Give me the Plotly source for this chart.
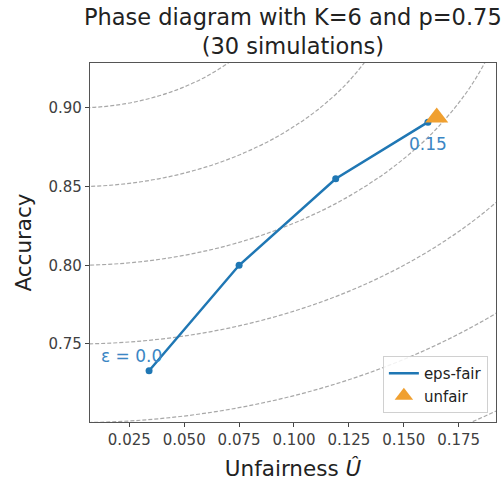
import plotly.graph_objects as go

# Data
eps = [0.0, 0.05, 0.10, 0.15]
unfairness = [0.034, 0.075, 0.119, 0.161]
accuracy = [0.733, 0.800, 0.855, 0.891]
unfair_x = [0.165]
unfair_y = [0.894]
radii = [0.10, 0.15, 0.20, 0.25, 0.30, 0.35]
x_ticks = [0.025, 0.050, 0.075, 0.100, 0.125, 0.150, 0.175]
y_ticks = [0.75, 0.80, 0.85, 0.90]

BLUE = "#1f77b4"
LABEL_BLUE = "#3b86c4"
ORANGE = "#f0a030"
FONT = "DejaVu Sans"

fig = go.Figure()

fig.add_trace(go.Scatter(x=unfairness, y=accuracy, mode="lines", name="eps-fair",
                         line=dict(color=BLUE, width=2.5)))
fig.add_trace(go.Scatter(x=unfairness, y=accuracy, mode="markers", showlegend=False,
                         marker=dict(color=BLUE, size=7)))
fig.add_trace(go.Scatter(x=unfair_x, y=unfair_y, mode="markers", name="unfair",
                         marker=dict(color=ORANGE, size=20, symbol="triangle-up",
                                     line=dict(width=0))))

for r in radii:
    fig.add_shape(type="circle", xref="x", yref="y", x0=-r, x1=r, y0=1 - r, y1=1 + r,
                  line=dict(color="#a8a8a8", width=1.2, dash="4px,2px"), layer="below")

fig.add_annotation(x=unfairness[0], y=accuracy[0], text=f"ε = {eps[0]:.1f}",
                   showarrow=False, xanchor="right", yanchor="middle",
                   xshift=15, yshift=15, font=dict(family=FONT, size=17, color=LABEL_BLUE))
fig.add_annotation(x=unfairness[-1], y=accuracy[-1], text=f"{eps[-1]:.2f}",
                   showarrow=False, xanchor="center", yanchor="middle",
                   xshift=0, yshift=-22, font=dict(family=FONT, size=17, color=LABEL_BLUE))

# Title as an annotation (multi-line)
fig.add_annotation(x=0.5, y=1, xref="paper", yref="paper", xanchor="center", yanchor="bottom",
                   yshift=2, showarrow=False,
                   text="Phase diagram with K=6 and p=0.75<br>(30 simulations)",
                   font=dict(family=FONT, size=22.5, color="#222222"))

axis_common = dict(showgrid=False, zeroline=False, showline=True, mirror=True,
                   linecolor="#555555", linewidth=1.3, ticks="outside", ticklen=4,
                   tickcolor="#444444", tickfont=dict(family=FONT, size=15, color="#404040"),
                   automargin=False)

fig.update_xaxes(range=[0.0071, 0.192], tickvals=x_ticks,
                 ticktext=[f"{v:.3f}" for v in x_ticks],
                 title=dict(text="Unfairness <i>Û</i>", font=dict(family=FONT, size=21.5, color="#222222"),
                            standoff=16),
                 **axis_common)
fig.update_yaxes(range=[0.7004, 0.9286], tickvals=y_ticks,
                 ticktext=[f"{v:.2f}" for v in y_ticks],
                 title=dict(text="Accuracy", font=dict(family=FONT, size=21.5, color="#222222"),
                            standoff=10),
                 **axis_common)

fig.update_layout(
    width=504, height=481,
    margin=dict(l=90, r=8, t=63, b=59),
    paper_bgcolor="white", plot_bgcolor="white",
    legend=dict(x=0.98, y=0.025, xanchor="right", yanchor="bottom",
                bgcolor="rgba(255,255,255,0.85)", bordercolor="#d0d0d0", borderwidth=1,
                itemwidth=30,
                font=dict(family=FONT, size=15, color="#222222")),
    font=dict(family=FONT),
)

fig.write_html("out.html", config={"displayModeBar": False},
               post_script="document.body.style.margin='0px';")
